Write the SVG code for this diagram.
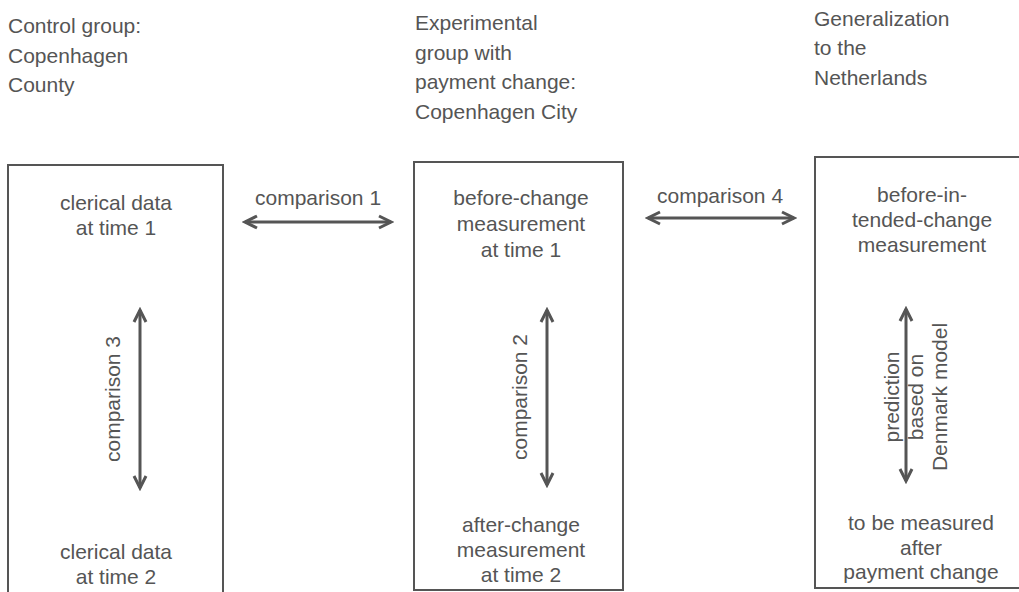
<svg xmlns="http://www.w3.org/2000/svg" width="1019" height="592" viewBox="0 0 1019 592">
<style>
text{font-family:"Liberation Sans",Arial,sans-serif;font-size:21px;fill:#555}
.c{text-anchor:middle}
.box{fill:none;stroke:#555;stroke-width:2}
.arr{stroke:#555;stroke-width:3;fill:none;marker-start:url(#ah);marker-end:url(#ah)}
</style>
<defs>
<marker id="ah" markerUnits="userSpaceOnUse" markerWidth="18" markerHeight="18" viewBox="0 0 18 18" refX="15" refY="9" orient="auto-start-reverse">
<path d="M3,3 L15,9 L3,15" fill="none" stroke="#555" stroke-width="3" stroke-linejoin="miter"/>
</marker>
</defs>
<rect width="1019" height="592" fill="#fff"/>
<g id="header-control">
<text x="8" y="33">Control group:</text>
<text x="8" y="63">Copenhagen</text>
<text x="8" y="92">County</text>
</g>
<g id="header-experimental">
<text x="415" y="30">Experimental</text>
<text x="415" y="60">group with</text>
<text x="415" y="89">payment change:</text>
<text x="415" y="119">Copenhagen City</text>
</g>
<g id="header-generalization">
<text x="814" y="26">Generalization</text>
<text x="814" y="55">to the</text>
<text x="814" y="85">Netherlands</text>
</g>
<g id="box-control">
<rect class="box" x="8" y="165" width="215" height="440"/>
<text class="c" x="116" y="210">clerical data</text>
<text class="c" x="116" y="235">at time 1</text>
<text class="c" x="116" y="559">clerical data</text>
<text class="c" x="116" y="584">at time 2</text>
</g>
<g id="box-experimental">
<rect class="box" x="414" y="162" width="209" height="428"/>
<text class="c" x="521" y="205">before-change</text>
<text class="c" x="521" y="231">measurement</text>
<text class="c" x="521" y="257">at time 1</text>
<text class="c" x="521" y="532">after-change</text>
<text class="c" x="521" y="557">measurement</text>
<text class="c" x="521" y="582">at time 2</text>
</g>
<g id="box-netherlands">
<rect class="box" x="815" y="157" width="220" height="431"/>
<text class="c" x="922" y="202">before-in-</text>
<text class="c" x="922" y="227">tended-change</text>
<text class="c" x="922" y="252">measurement</text>
<text class="c" x="921" y="530">to be measured</text>
<text class="c" x="921" y="555">after</text>
<text class="c" x="921" y="579">payment change</text>
</g>
<g id="connectors">
<line class="arr" x1="245" y1="222" x2="391" y2="222"/>
<line class="arr" x1="648" y1="218" x2="794" y2="218"/>
<line class="arr" x1="140" y1="310" x2="140" y2="488"/>
<line class="arr" x1="547" y1="310" x2="547" y2="485"/>
<line class="arr" x1="906" y1="309" x2="906" y2="481"/>
</g>
<g id="connector-labels">
<text x="255" y="205">comparison 1</text>
<text x="657" y="203">comparison 4</text>
<text class="c" transform="translate(120,399) rotate(-90)">comparison 3</text>
<text class="c" transform="translate(527,397) rotate(-90)">comparison 2</text>
<text class="c" transform="translate(899,397) rotate(-90)">prediction</text>
<text class="c" transform="translate(923,397) rotate(-90)">based on</text>
<text class="c" transform="translate(947,397) rotate(-90)">Denmark model</text>
</g>
</svg>
